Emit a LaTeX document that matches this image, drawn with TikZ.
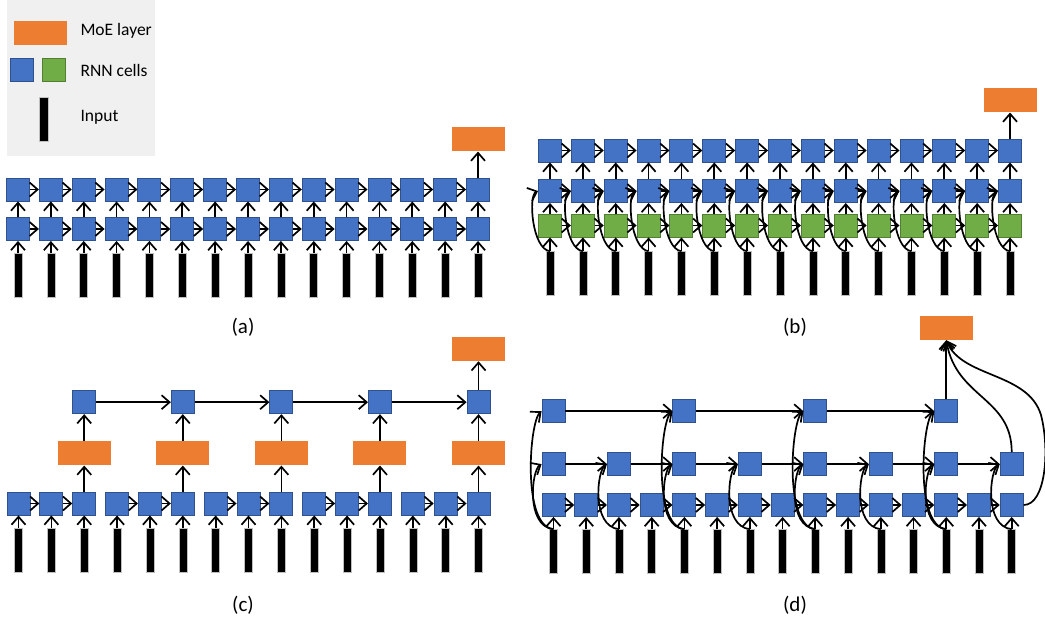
\documentclass[tikz,border=0pt]{standalone}
\usepackage{fontspec}
\setmainfont{Carlito}
\usepackage{tikz}
\usetikzlibrary{arrows.meta, positioning}
\definecolor{rnnblue}{RGB}{68, 114, 196}
\definecolor{rnnblueedge}{RGB}{47, 82, 143}
\definecolor{rnngreen}{RGB}{112, 173, 71}
\definecolor{rnngreenedge}{RGB}{80, 126, 50}
\definecolor{moeorange}{RGB}{237, 125, 49}
\definecolor{legendgray}{RGB}{240, 240, 240}

\begin{document}
\begin{tikzpicture}[
    x=1pt, y=-1pt,
    cell/.style={rectangle, draw=rnnblueedge, fill=rnnblue, line width=0.9pt, minimum size=23pt, inner sep=0pt},
    gcell/.style={cell, draw=rnngreenedge, fill=rnngreen},
    moe/.style={rectangle, fill=moeorange, minimum width=53pt, minimum height=24pt, inner sep=0pt},
    inp/.style={rectangle, fill=black, draw=gray!50, line width=0.6pt, minimum width=8pt, minimum height=44pt, inner sep=0pt},
    arrow/.style={-{Straight Barb[length=8pt, width=14pt]}, line width=1.7pt},
    lbl/.style={font=\fontsize{17.5}{20}\selectfont},
    captionlbl/.style={font=\fontsize{21}{24}\selectfont}
]
    \useasboundingbox (0,0) rectangle (1045,621);

    % Legend
    \node[rectangle, fill=legendgray, minimum width=148pt, minimum height=156pt, inner sep=0pt] (legend) at (81,78) {};
    \node[moe] (leg-moe) at (40.5,32.5) {};
    \node[cell] (leg-blue) at (22,70) {};
    \node[gcell] (leg-green) at (54,70) {};
    \node[inp, minimum width=9pt] (leg-in) at (43.5,119) {};
    \node[lbl, anchor=west] (leg-moe-txt) at (77,31) {MoE layer};
    \node[lbl, anchor=west] (leg-rnn-txt) at (77,70) {RNN cells};
    \node[lbl, anchor=west] (leg-in-txt) at (77,117) {Input};

    % Panel (a): two stacked layers
    \foreach \i in {1,...,15} {
        \pgfmathsetmacro{\xa}{18+32.86*(\i-1)}
        \node[cell] (a-top-\i) at (\xa,189.5) {};
        \node[cell] (a-bot-\i) at (\xa,229) {};
        \node[inp] (a-in-\i) at (\xa,275) {};
        \draw[arrow] (a-in-\i) -- (a-bot-\i);
        \draw[arrow] (a-bot-\i) -- (a-top-\i);
    }
    \foreach \i [evaluate=\i as \j using int(\i+1)] in {1,...,14} {
        \draw[arrow] (a-top-\i) -- (a-top-\j);
        \draw[arrow] (a-bot-\i) -- (a-bot-\j);
    }
    \node[moe, above=26pt of a-top-15] (a-moe) {};
    \draw[arrow] (a-top-15) -- (a-moe);

    % Panel (b): three layers with skip from input
    \foreach \i in {1,...,15} {
        \pgfmathsetmacro{\xb}{550+32.86*(\i-1)}
        \node[cell] (b-top-\i) at (\xb,150.5) {};
        \node[cell] (b-mid-\i) at (\xb,191) {};
        \node[gcell] (b-low-\i) at (\xb,225.5) {};
        \node[inp] (b-in-\i) at (\xb,273.5) {};
        \draw[arrow] (b-in-\i) -- (b-low-\i);
        \draw[arrow] (b-low-\i) -- (b-mid-\i);
        \draw[arrow] (b-mid-\i) -- (b-top-\i);
        \draw[arrow] (b-in-\i.north) .. controls +(-18,-2) and +(-10,4) .. (b-mid-\i.west);
    }
    \foreach \i [evaluate=\i as \j using int(\i+1)] in {1,...,14} {
        \draw[arrow] (b-top-\i) -- (b-top-\j);
        \draw[arrow] (b-mid-\i) -- (b-mid-\j);
        \draw[arrow] (b-low-\i) -- (b-low-\j);
    }
    \node[moe, above=26pt of b-top-15] (b-moe) {};
    \draw[arrow] (b-top-15) -- (b-moe);

    % Panel (c): chunks of three, MoE per chunk
    \foreach \i in {1,...,15} {
        \pgfmathsetmacro{\xc}{18.5+32.86*(\i-1)}
        \node[cell] (c-bot-\i) at (\xc,503.5) {};
        \node[inp] (c-in-\i) at (\xc,550) {};
        \draw[arrow] (c-in-\i) -- (c-bot-\i);
    }
    \foreach \i [evaluate=\i as \j using int(\i+1)] in {1,2,4,5,7,8,10,11,13,14} {
        \draw[arrow] (c-bot-\i) -- (c-bot-\j);
    }
    \foreach \k [evaluate=\k as \i using int(3*\k)] in {1,...,5} {
        \node[moe, above=26pt of c-bot-\i] (c-moe-\k) {};
        \node[cell, above=27pt of c-moe-\k] (c-top-\k) {};
        \draw[arrow] (c-bot-\i) -- (c-moe-\k);
        \draw[arrow] (c-moe-\k) -- (c-top-\k);
    }
    \foreach \k [evaluate=\k as \j using int(\k+1)] in {1,...,4} {
        \draw[arrow] (c-top-\k) -- (c-top-\j);
    }
    \node[moe, above=29pt of c-top-5] (c-moe) {};
    \draw[arrow] (c-top-5) -- (c-moe);

    % Panel (d): dilated layers
    \foreach \i in {1,...,15} {
        \pgfmathsetmacro{\xd}{553.5+32.73*(\i-1)}
        \node[cell] (d-bot-\i) at (\xd,505) {};
        \node[inp] (d-in-\i) at (\xd,551.5) {};
        \draw[arrow] (d-in-\i) -- (d-bot-\i);
    }
    \foreach \i [evaluate=\i as \j using int(\i+1)] in {1,...,14} {
        \draw[arrow] (d-bot-\i) -- (d-bot-\j);
    }
    \foreach \i in {1,3,...,15} {
        \node[cell, above=17pt of d-bot-\i] (d-mid-\i) {};
        \draw[arrow] (d-in-\i.north) .. controls +(-28,-3) and +(-10,6) .. (d-mid-\i.west);
    }
    \foreach \i [evaluate=\i as \j using int(\i+2)] in {1,3,...,13} {
        \draw[arrow] (d-mid-\i) -- (d-mid-\j);
    }
    \foreach \i in {1,5,9,13} {
        \node[cell, above=29pt of d-mid-\i] (d-top-\i) {};
        \draw[arrow] (d-in-\i.north) .. controls +(-32,-3) and +(-12,10) .. (d-top-\i.west);
    }
    \draw[arrow] (d-top-1) -- (d-top-5);
    \draw[arrow] (d-top-5) -- (d-top-9);
    \draw[arrow] (d-top-9) -- (d-top-13);
    \node[moe, above=59pt of d-top-13] (d-moe) {};
    \draw[arrow] (d-top-13) -- (d-moe);
    \draw[arrow] (d-mid-15.north) .. controls +(0,-55) and +(10,58) .. (d-moe.south);
    \draw[arrow] (d-bot-15.east) .. controls +(22,0) and (1050,450) .. (1041,415)
        .. controls (1028,372) and (962,378) .. (d-moe.south);

    % Captions
    \node[captionlbl] (cap-a) at (243,327) {(a)};
    \node[captionlbl] (cap-b) at (795,327) {(b)};
    \node[captionlbl] (cap-c) at (243,605) {(c)};
    \node[captionlbl] (cap-d) at (795,605) {(d)};
\end{tikzpicture}
\end{document}
